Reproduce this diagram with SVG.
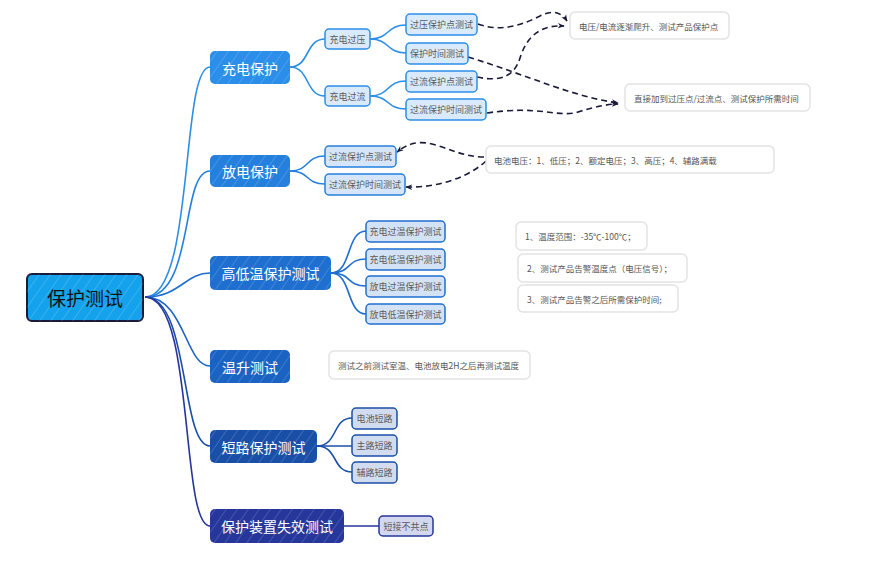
<svg xmlns="http://www.w3.org/2000/svg" width="875" height="563" viewBox="0 0 875 563">
<defs>
<pattern id="hatch" width="9" height="9" patternUnits="userSpaceOnUse" patternTransform="rotate(35)">
<line x1="0" y1="0" x2="0" y2="9" stroke="#ffffff" stroke-width="1" stroke-opacity="0.3"/>
</pattern>
<marker id="arr" viewBox="0 0 10 10" refX="9" refY="5" markerWidth="7" markerHeight="7" orient="auto" markerUnits="userSpaceOnUse">
<path d="M0,1 L10,5 L0,9 L3,5 Z" fill="#1a1a3a"/>
</marker>
<style>
text{font-family:"Noto Sans CJK SC","Noto Sans",sans-serif;text-anchor:middle;dominant-baseline:central}
.root text{font-size:19px;fill:#111}
.br text{font-size:14px;fill:#ffffff}
.sub text{font-size:9px;fill:#5a5a5a}
.note rect{fill:#fff;stroke:#e3e3e3;stroke-width:1.5}
.note text{font-size:8.5px;fill:#555;text-anchor:start}
.c{fill:none;stroke-width:1.6}
.d{fill:none;stroke:#1a1a3a;stroke-width:1.6;stroke-dasharray:6 4;marker-end:url(#arr)}
</style>
</defs>
<rect width="875" height="563" fill="#ffffff"/>
<g id="connectors">
<path class="c" stroke="#2b8ee8" d="M145,297 C195,297 180,67 210,67"/>
<path class="c" stroke="#2580dd" d="M145,297 C195,297 180,171 210,171"/>
<path class="c" stroke="#1e6fcf" d="M145,297 C180,297 185,273 210,273"/>
<path class="c" stroke="#1a63c2" d="M145,297 C185,297 185,366 210,366"/>
<path class="c" stroke="#1a4fa8" d="M145,297 C190,297 180,446 210,446"/>
<path class="c" stroke="#26369a" d="M145,297 C195,297 180,526 210,526"/>
<path class="c" stroke="#2b8ee8" d="M290,67 C310,67 305,39 325,39"/>
<path class="c" stroke="#2b8ee8" d="M290,67 C310,67 305,96 325,96"/>
<path class="c" stroke="#2b8ee8" d="M370,39 C390,39 386,25 406,25"/>
<path class="c" stroke="#2b8ee8" d="M370,39 C390,39 386,53 406,53"/>
<path class="c" stroke="#2b8ee8" d="M370,96 C390,96 386,81 406,81"/>
<path class="c" stroke="#2b8ee8" d="M370,96 C390,96 386,109 406,109"/>
<path class="c" stroke="#2580dd" d="M290,171 C310,171 305,156 325,156"/>
<path class="c" stroke="#2580dd" d="M290,171 C310,171 305,184 325,184"/>
<path class="c" stroke="#1e6fcf" d="M331,273 C352,273 346,231 366,231"/>
<path class="c" stroke="#1e6fcf" d="M331,273 C352,273 346,259 366,259"/>
<path class="c" stroke="#1e6fcf" d="M331,273 C352,273 346,286 366,286"/>
<path class="c" stroke="#1e6fcf" d="M331,273 C352,273 346,314 366,314"/>
<path class="c" stroke="#1a4fa8" d="M317,446 C338,446 332,418 352,418"/>
<path class="c" stroke="#1a4fa8" d="M317,446 L352,446"/>
<path class="c" stroke="#1a4fa8" d="M317,446 C338,446 332,472 352,472"/>
<path class="c" stroke="#26369a" d="M344,526 L379,526"/>
<path class="d" d="M478,24 C500,32 520,26 540,16 C553,9 562,13 567,21"/>
<path class="d" d="M477,77 C500,82 514,77 520,58 C528,32 545,25 564,26"/>
<path class="d" d="M468,57 C530,76 570,96 618,103"/>
<path class="d" d="M487,113 C540,105 558,118 578,112 C594,107 608,104 618,104"/>
<path class="d" d="M484,157 C465,157 450,149 432,144 C416,140 406,145 397,152"/>
<path class="d" d="M486,161 C470,176 440,188 406,187"/>
</g>
<g id="root" class="root">
<rect x="27" y="274" width="116" height="47" rx="5" fill="#14a2ec" stroke="#1a1a3a" stroke-width="2"/>
<rect x="27" y="274" width="116" height="47" rx="5" fill="url(#hatch)"/>
<text x="85" y="297.5">保护测试</text>
</g>
<g id="n-charge" class="br">
<rect x="210" y="51" width="80" height="33" rx="5" fill="#2b8ee8"/>
<rect x="210" y="51" width="80" height="33" rx="5" fill="url(#hatch)"/>
<text x="250" y="67.5">充电保护</text>
</g>
<g id="n-discharge" class="br">
<rect x="210" y="155" width="80" height="32" rx="5" fill="#2580dd"/>
<rect x="210" y="155" width="80" height="32" rx="5" fill="url(#hatch)"/>
<text x="250" y="171">放电保护</text>
</g>
<g id="n-temp" class="br">
<rect x="210" y="256" width="121" height="34" rx="5" fill="#1e6fcf"/>
<rect x="210" y="256" width="121" height="34" rx="5" fill="url(#hatch)"/>
<text x="270.5" y="273">高低温保护测试</text>
</g>
<g id="n-rise" class="br">
<rect x="210" y="350" width="80" height="33" rx="5" fill="#1a63c2"/>
<rect x="210" y="350" width="80" height="33" rx="5" fill="url(#hatch)"/>
<text x="250" y="366.5">温升测试</text>
</g>
<g id="n-short" class="br">
<rect x="210" y="430" width="107" height="33" rx="5" fill="#1a4fa8"/>
<rect x="210" y="430" width="107" height="33" rx="5" fill="url(#hatch)"/>
<text x="263.5" y="446.5">短路保护测试</text>
</g>
<g id="n-fail" class="br">
<rect x="210" y="509" width="134" height="34" rx="5" fill="#26369a"/>
<rect x="210" y="509" width="134" height="34" rx="5" fill="url(#hatch)"/>
<text x="277" y="526">保护装置失效测试</text>
</g>
<g id="s-ov" class="sub"><rect x="325" y="29" width="45" height="20" rx="4" fill="#d8eafc" stroke="#2b8ee8" stroke-width="1.5"/><text x="347.5" y="39">充电过压</text></g>
<g id="s-oc" class="sub"><rect x="325" y="86" width="45" height="20" rx="4" fill="#d8eafc" stroke="#2b8ee8" stroke-width="1.5"/><text x="347.5" y="96">充电过流</text></g>
<g id="l-ovp" class="sub"><rect x="406" y="14" width="71" height="21" rx="4" fill="#d8eafc" stroke="#2b8ee8" stroke-width="1.5"/><text x="441.5" y="24.5">过压保护点测试</text></g>
<g id="l-ovt" class="sub"><rect x="406" y="43" width="62" height="21" rx="4" fill="#d8eafc" stroke="#2b8ee8" stroke-width="1.5"/><text x="437" y="53.5">保护时间测试</text></g>
<g id="l-ocp" class="sub"><rect x="406" y="71" width="71" height="21" rx="4" fill="#d8eafc" stroke="#2b8ee8" stroke-width="1.5"/><text x="441.5" y="81.5">过流保护点测试</text></g>
<g id="l-oct" class="sub"><rect x="406" y="99" width="80" height="21" rx="4" fill="#d8eafc" stroke="#2b8ee8" stroke-width="1.5"/><text x="446" y="109.5">过流保护时间测试</text></g>
<g id="d-ocp" class="sub"><rect x="325" y="146" width="71" height="21" rx="4" fill="#d6e6f8" stroke="#2580dd" stroke-width="1.5"/><text x="360.5" y="156.5">过流保护点测试</text></g>
<g id="d-oct" class="sub"><rect x="325" y="174" width="80" height="21" rx="4" fill="#d6e6f8" stroke="#2580dd" stroke-width="1.5"/><text x="365" y="184.5">过流保护时间测试</text></g>
<g id="t-1" class="sub"><rect x="366" y="221" width="79" height="21" rx="4" fill="#d4e2f5" stroke="#1e6fcf" stroke-width="1.5"/><text x="405.5" y="231.5">充电过温保护测试</text></g>
<g id="t-2" class="sub"><rect x="366" y="249" width="79" height="21" rx="4" fill="#d4e2f5" stroke="#1e6fcf" stroke-width="1.5"/><text x="405.5" y="259.5">充电低温保护测试</text></g>
<g id="t-3" class="sub"><rect x="366" y="276" width="79" height="21" rx="4" fill="#d4e2f5" stroke="#1e6fcf" stroke-width="1.5"/><text x="405.5" y="286.5">放电过温保护测试</text></g>
<g id="t-4" class="sub"><rect x="366" y="304" width="79" height="20" rx="4" fill="#d4e2f5" stroke="#1e6fcf" stroke-width="1.5"/><text x="405.5" y="314">放电低温保护测试</text></g>
<g id="sc-1" class="sub"><rect x="352" y="408" width="45" height="21" rx="4" fill="#d2dcf0" stroke="#1a4fa8" stroke-width="1.5"/><text x="374.5" y="418.5">电池短路</text></g>
<g id="sc-2" class="sub"><rect x="352" y="435" width="45" height="21" rx="4" fill="#d2dcf0" stroke="#1a4fa8" stroke-width="1.5"/><text x="374.5" y="445.5">主路短路</text></g>
<g id="sc-3" class="sub"><rect x="352" y="462" width="45" height="21" rx="4" fill="#d2dcf0" stroke="#1a4fa8" stroke-width="1.5"/><text x="374.5" y="472.5">辅路短路</text></g>
<g id="f-1" class="sub"><rect x="379" y="516" width="54" height="20" rx="4" fill="#d4d8ee" stroke="#26369a" stroke-width="1.5"/><text x="406" y="526">短接不共点</text></g>
<g id="note1" class="note"><rect x="570" y="12" width="159" height="27" rx="5"/><text x="579" y="25.5">电压/电流逐渐爬升、测试产品保护点</text></g>
<g id="note2" class="note"><rect x="625" y="84" width="185" height="27" rx="5"/><text x="634" y="97.5">直接加到过压点/过流点、测试保护所需时间</text></g>
<g id="note3" class="note"><rect x="486" y="146" width="288" height="27" rx="5"/><text x="494" y="159.5">电池电压：1、低压；2、额定电压；3、高压；4、辅路满载</text></g>
<g id="note4" class="note"><rect x="516" y="222" width="131" height="28" rx="5"/><text x="525" y="236">1、温度范围：-35℃-100℃；</text></g>
<g id="note5" class="note"><rect x="518" y="254" width="169" height="28" rx="5"/><text x="527" y="268">2、测试产品告警温度点（电压信号）；</text></g>
<g id="note6" class="note"><rect x="518" y="285" width="160" height="27" rx="5"/><text x="527" y="298.5">3、测试产品告警之后所需保护时间;</text></g>
<g id="note7" class="note"><rect x="329" y="351" width="201" height="28" rx="5"/><text x="338" y="365">测试之前测试室温、电池放电2H之后再测试温度</text></g>
</svg>
